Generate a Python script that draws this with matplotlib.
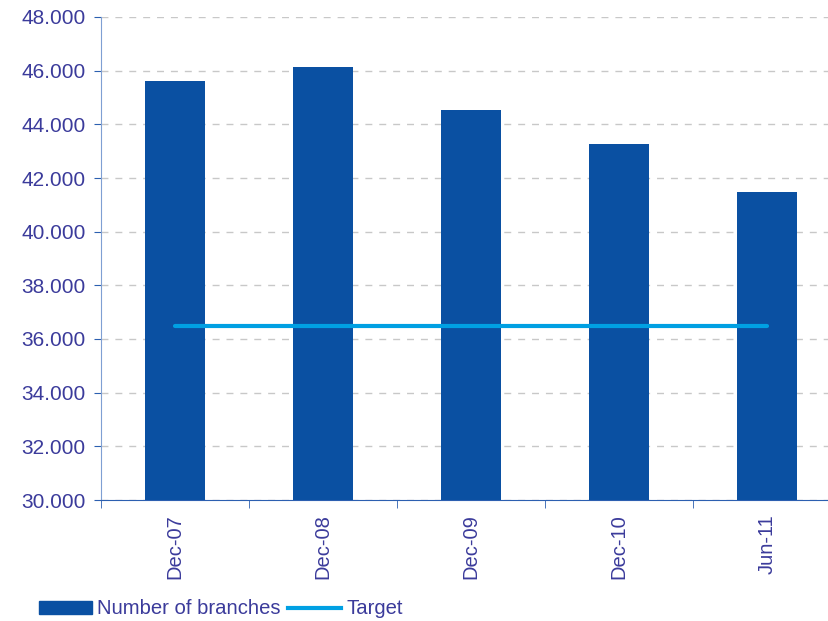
import matplotlib
matplotlib.use("Agg")
import matplotlib.pyplot as plt
import numpy as np
from matplotlib.patches import Patch
from matplotlib.lines import Line2D
from matplotlib.ticker import FuncFormatter

# data
periods = ["Dec-07", "Dec-08", "Dec-09", "Dec-10", "Jun-11"]
branches = [45620, 46140, 44540, 43270, 41480]
target = [36500, 36500, 36500, 36500, 36500]

bar_col = "#0a50a2"
line_col = "#00a0e3"
txt_col = "#3b3b9b"

plt.rcParams['font.family'] = ['Liberation Sans', 'DejaVu Sans']

fig = plt.figure(figsize=(8.29, 6.21), dpi=100)
ax = fig.add_axes([101/829, 1-500/621, 740/829, (500-17)/621])

x = np.arange(len(periods))
ax.bar(x, branches, width=0.41, color=bar_col, zorder=2)
ax.plot(x, target, color=line_col, lw=3, solid_capstyle='round', zorder=3)

ax.set_xlim(-0.5, len(periods)-0.5)
ax.set_ylim(30000, 48000)
ax.set_yticks(np.arange(30000, 48001, 2000))
ax.yaxis.set_major_formatter(FuncFormatter(lambda v, p: f"{int(v):,}".replace(",", ".")))
ax.grid(axis='y', color='#c8c8c8', linestyle=(0, (5, 5)), lw=1, zorder=0)

ax.set_xticks(x)
ax.set_xticklabels(periods, rotation=90)
ax.set_xticks(np.arange(-0.5, len(periods)), minor=True)
ax.tick_params(axis='x', which='major', length=0, pad=10, labelsize=14.5, labelcolor=txt_col)
ax.tick_params(axis='x', which='minor', length=6, color='#2c5fb0', direction='out')
ax.tick_params(axis='y', length=5, color='#2c5fb0', labelsize=15, labelcolor=txt_col, pad=6)

for s in ['top', 'right']:
    ax.spines[s].set_visible(False)
ax.spines['left'].set_color('#7f9fd3')
ax.spines['bottom'].set_color('#2c5fb0')

handles = [Patch(color=bar_col, label="Number of branches"),
           Line2D([0], [0], color=line_col, lw=3, label="Target")]
fig.legend(handles=handles, loc='center left', bbox_to_anchor=(39/829, 1-609/621), ncol=2,
           frameon=False, fontsize=14.6, labelcolor=txt_col, handlelength=2.6,
           handletextpad=0.25, columnspacing=0.4, handleheight=0.6, borderpad=0,
           borderaxespad=0)

fig.savefig("out.png", dpi=100)
